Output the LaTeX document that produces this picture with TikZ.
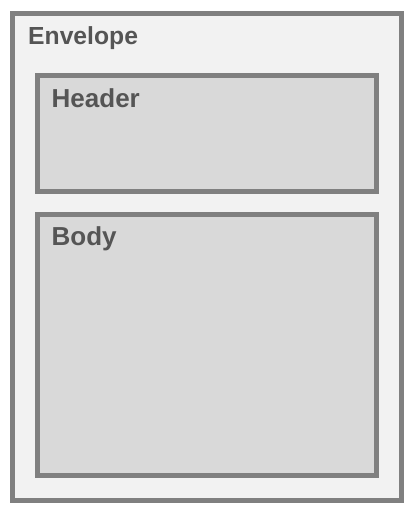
\documentclass[tikz,border=0pt]{standalone}
\usepackage{fontspec}
\setmainfont{Liberation Sans}
\definecolor{strokegray}{HTML}{808080}
\definecolor{outerfill}{HTML}{F2F2F2}
\definecolor{innerfill}{HTML}{D9D9D9}
\definecolor{textgray}{HTML}{555555}
\tikzset{
  outerbox/.style={draw=strokegray, fill=outerfill, line width=5pt},
  innerbox/.style={draw=strokegray, fill=innerfill, line width=5pt},
  lbl/.style={anchor=base west, inner sep=0pt, text=textgray, font=\bfseries}
}
\begin{document}
\begin{tikzpicture}[x=1pt,y=-1pt]
\useasboundingbox (0,0) rectangle (415,515);
\fill[white] (0,0) rectangle (415,515);
\draw[outerbox] (12.5,13.5) rectangle (401.5,500);
\draw[innerbox] (37.5,75) rectangle (376.5,191.5);
\draw[innerbox] (37.5,214) rectangle (376.5,475);
\node[lbl, font=\fontsize{24.7}{28}\selectfont\bfseries] (envlabel) at (28,44.8) {Envelope};
\node[lbl, font=\fontsize{26}{30}\selectfont\bfseries] (headlabel) at (51.5,107) {Header};
\node[lbl, font=\fontsize{26}{30}\selectfont\bfseries] (bodylabel) at (51.5,245.5) {Body};
\end{tikzpicture}
\end{document}
